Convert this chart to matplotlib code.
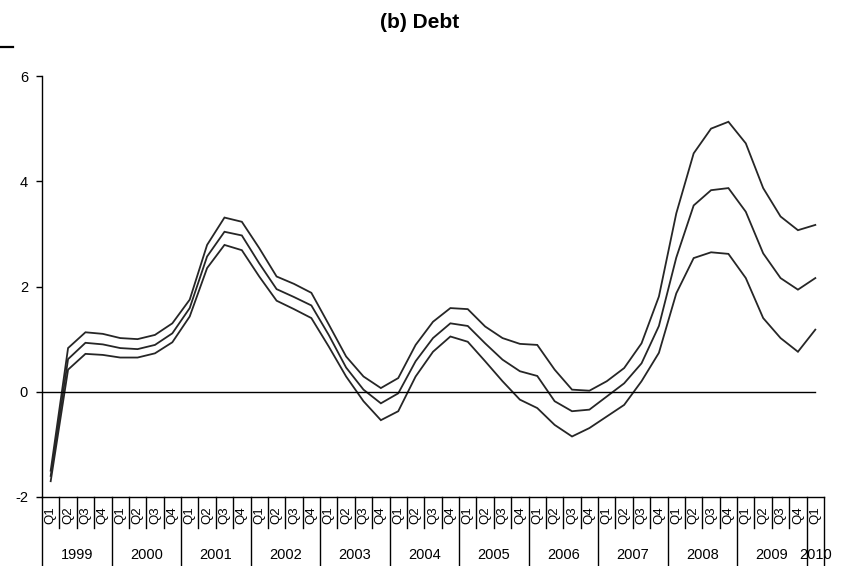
import matplotlib
matplotlib.use("Agg")
import matplotlib.pyplot as plt
from matplotlib.lines import Line2D
from matplotlib.transforms import blended_transform_factory

plt.rcParams['font.family'] = ['Liberation Sans', 'DejaVu Sans']
plt.rcParams['axes.unicode_minus'] = False

# Quarterly periods 1999Q1 .. 2010Q1
years = ['1999', '2000', '2001', '2002', '2003', '2004',
         '2005', '2006', '2007', '2008', '2009', '2010']
quarter_labels = ['Q1', 'Q2', 'Q3', 'Q4'] * 11 + ['Q1']

upper = [-1.50, 0.83, 1.13, 1.10, 1.02, 1.00, 1.08, 1.30,
         1.75, 2.79, 3.31, 3.23, 2.73, 2.19, 2.05, 1.88,
         1.28, 0.67, 0.29, 0.07, 0.26, 0.89, 1.33, 1.59,
         1.57, 1.24, 1.02, 0.91, 0.89, 0.42, 0.04, 0.02,
         0.20, 0.45, 0.92, 1.81, 3.39, 4.53, 5.00, 5.13,
         4.72, 3.87, 3.33, 3.07, 3.17]
median = [-1.60, 0.62, 0.93, 0.90, 0.83, 0.81, 0.89, 1.11,
          1.59, 2.57, 3.04, 2.97, 2.44, 1.95, 1.80, 1.64,
          1.08, 0.46, 0.04, -0.22, -0.03, 0.58, 1.02, 1.30,
          1.25, 0.92, 0.61, 0.39, 0.30, -0.18, -0.37, -0.34,
          -0.09, 0.16, 0.54, 1.25, 2.55, 3.54, 3.83, 3.87,
          3.42, 2.63, 2.16, 1.94, 2.16]
lower = [-1.70, 0.42, 0.72, 0.70, 0.65, 0.65, 0.73, 0.94,
         1.43, 2.35, 2.79, 2.69, 2.19, 1.73, 1.57, 1.40,
         0.86, 0.29, -0.18, -0.54, -0.37, 0.29, 0.76, 1.05,
         0.95, 0.58, 0.20, -0.15, -0.31, -0.63, -0.85, -0.69,
         -0.47, -0.25, 0.20, 0.74, 1.87, 2.54, 2.65, 2.62,
         2.16, 1.40, 1.02, 0.76, 1.18]

y_ticks = [-2, 0, 2, 4, 6]

W, H = 848, 566
fig = plt.figure(figsize=(W / 100, H / 100), dpi=100)
ax = fig.add_axes([42 / W, 69 / H, (824 - 42) / W, (497 - 76) / H])

n = len(quarter_labels)
x = list(range(n))
ax.set_xlim(-0.5, n - 0.5)
ax.set_ylim(-2, 6)

line_kw = dict(color='#262626', lw=1.3, solid_joinstyle='miter')
for series in (upper, median, lower):
    ax.plot(x, series, **line_kw)

# zero reference line
ax.plot([-0.5, x[-1]], [0, 0], color='black', lw=1.0)

for side in ('top', 'right'):
    ax.spines[side].set_visible(False)
for side in ('left', 'bottom'):
    ax.spines[side].set_linewidth(1.0)
    ax.spines[side].set_color('black')

ax.set_yticks(y_ticks)
ax.set_yticklabels([str(v) for v in y_ticks])
ax.tick_params(axis='y', direction='out', length=4.5, width=1.0,
               labelsize=10.5, pad=5.5)
ax.set_xticks([])

# category table under the plot area
tr = blended_transform_factory(ax.transData, ax.transAxes)
y_bottom = -0.164
y_qline = -0.074
lk = dict(color='black', lw=1.0, clip_on=False, transform=tr)

ax.plot([-0.5, -0.5], [0, y_bottom], **lk)
for i in range(1, n + 1):
    xb = i - 0.5
    if i % 4 == 0 or i == n:
        ax.plot([xb, xb], [0, y_bottom], **lk)
    else:
        ax.plot([xb, xb], [0, y_qline], **lk)

for i, q in enumerate(quarter_labels):
    ax.text(i, -0.043, q, rotation=90, ha='center', va='center',
            fontsize=9.5, transform=tr, clip_on=False)

for k, yr in enumerate(years):
    start = 4 * k
    stop = min(start + 4, n)
    ax.text((start + stop - 1) / 2, -0.138, yr, ha='center', va='center',
            fontsize=10.5, transform=tr, clip_on=False)

fig.text(420 / W, 1 - 22 / H, '(b) Debt', ha='center', va='center',
         fontsize=15, fontweight='bold')

# short rule at the upper left edge
fig.add_artist(Line2D([0, 13 / W], [1 - 46.5 / H, 1 - 46.5 / H],
                      color='black', lw=1.6, transform=fig.transFigure))

fig.savefig('out.png', dpi=100)
